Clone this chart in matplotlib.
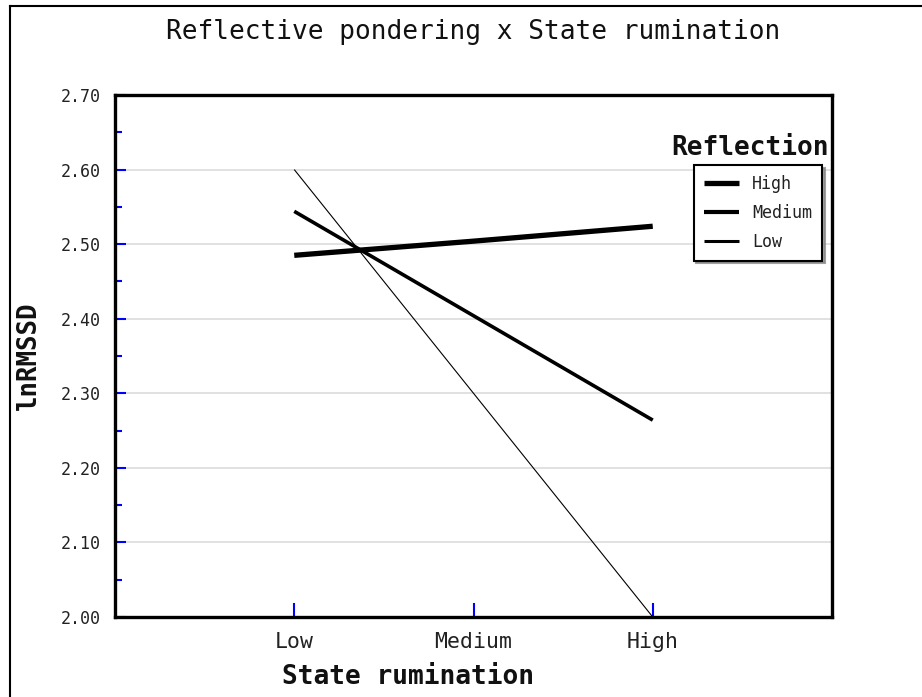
import matplotlib
matplotlib.use("Agg")
import matplotlib.pyplot as plt
from matplotlib.lines import Line2D

categories = ["Low", "Medium", "High"]
series_names = ["High", "Medium", "Low"]
high_vals = [2.485, 2.504, 2.524]
medium_vals = [2.544, 2.404, 2.264]
low_vals = [2.600, 2.300, 2.000]
y_ticks = [2.00, 2.10, 2.20, 2.30, 2.40, 2.50, 2.60, 2.70]

plt.rcParams['font.family'] = ['DejaVu Sans Mono', 'DejaVu Sans']

fig = plt.figure(figsize=(9.22, 6.97), dpi=100)
ax = fig.add_axes([115/922, 1-617/697, (832-115)/922, (617-95)/697])

x = [1, 2, 3]
widths = [3.8, 2.6, 0.8]
handle_widths = [3.8, 3.0, 2.2]
for vals, lw in zip([high_vals, medium_vals, low_vals], widths):
    ax.plot(x, vals, color='black', lw=lw, solid_capstyle='butt', zorder=3)

ax.set_xlim(0, 4)
ax.set_ylim(2.0, 2.7)
ax.set_xticks(x)
ax.set_xticklabels(categories, fontsize=15.5, color='#222222')
ax.set_yticks(y_ticks)
ax.set_yticklabels([f"{v:.2f}" for v in y_ticks], fontsize=12, color='#222222')
ax.set_yticks([2.05 + 0.1*i for i in range(7)], minor=True)
ax.tick_params(axis='y', which='major', direction='in', length=8, width=1.5, color='blue', pad=10)
ax.tick_params(axis='y', which='minor', direction='in', length=5, width=1.5, color='blue')
ax.tick_params(axis='x', which='major', direction='in', length=10, width=1.5, color='blue', pad=11)
ax.grid(axis='y', which='major', color='#dcdcdc', lw=1.2, zorder=0)
ax.set_axisbelow(True)
for s in ax.spines.values():
    s.set_linewidth(2.4)
    s.set_color('black')

ax.set_ylabel("lnRMSSD", fontsize=18.5, fontweight='bold', labelpad=14, color='#111111')
fig.text(408/922, 1-677/697, "State rumination", ha='center', va='center',
         fontsize=18.8, fontweight='bold', color='#111111')

fig.text(473/922, 1-32/697, "Reflective pondering x State rumination",
         ha='center', va='center', fontsize=18.8, color='#111111')

handles = [Line2D([0], [0], color='black', lw=w, solid_capstyle='butt') for w in handle_widths]
leg = ax.legend(handles, series_names, loc='upper right',
                bbox_to_anchor=(0.986, 0.866), borderaxespad=0,
                fontsize=12, frameon=True, fancybox=False, shadow={'color': '#888888', 'alpha': 0.8},
                handlelength=2.1, handletextpad=0.8, labelspacing=0.65,
                borderpad=0.6)
leg.get_frame().set_edgecolor('black')
leg.get_frame().set_linewidth(1.5)
for t in leg.get_texts():
    t.set_color('#222222')

fig.text(750/922, 1-148/697, "Reflection", ha='center', va='center',
         fontsize=18.8, fontweight='bold', color='#111111')

# outer border (top and left)
fig.add_artist(Line2D([10/922, 1], [1-6/697, 1-6/697], color='black', lw=1.5, transform=fig.transFigure))
fig.add_artist(Line2D([10/922, 10/922], [0, 1-6/697], color='black', lw=1.5, transform=fig.transFigure))

fig.savefig("out.png", dpi=100)
